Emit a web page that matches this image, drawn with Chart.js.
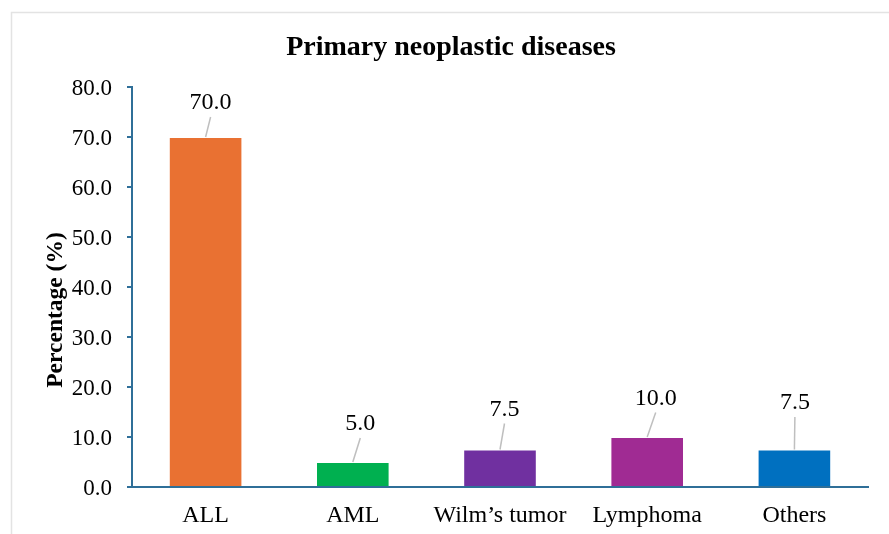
<!DOCTYPE html>
<html>
<head>
<meta charset="utf-8">
<title>Primary neoplastic diseases</title>
<script src="https://cdn.jsdelivr.net/npm/chart.js@4.4.1/dist/chart.umd.min.js"></script>
<style>
  html, body { margin: 0; padding: 0; background: #fff; }
  #wrap { width: 889px; height: 534px; }
</style>
</head>
<body>
<div id="wrap"><canvas id="chart" width="889" height="534"></canvas></div>
<script>
// data
const categories = ['ALL', 'AML', 'Wilm\u2019s tumor', 'Lymphoma', 'Others'];
const percentages = [70.0, 5.0, 7.5, 10.0, 7.5];
const barColors = ['#E97132', '#00B050', '#7030A0', '#A02B93', '#0070C0'];
const yTicks = [0, 10, 20, 30, 40, 50, 60, 70, 80];

// label nudges (px) relative to top centre of each bar
const labelNudges = [[5, -36], [7.5, -40], [4.5, -42], [8.5, -40.5], [0.5, -48.5]];

const FONT = "'Liberation Serif', 'Times New Roman', serif";
const AXIS = '#2F6F98';

// white background + the light frame on top/left
const framePlugin = {
    id: 'frame',
    beforeDraw(chart) {
        const ctx = chart.ctx;
        ctx.save();
        ctx.fillStyle = '#fff';
        ctx.fillRect(0, 0, chart.width, chart.height);
        ctx.strokeStyle = '#E3E3E3';
        ctx.lineWidth = 1.5;
        ctx.beginPath();
        ctx.moveTo(11.5, chart.height);
        ctx.lineTo(11.5, 12.5);
        ctx.lineTo(chart.width, 12.5);
        ctx.stroke();
        ctx.restore();
    }
};

// title and rotated y-axis title
const textPlugin = {
    id: 'texts',
    afterDraw(chart) {
        const ctx = chart.ctx;
        ctx.save();
        ctx.fillStyle = '#000';
        ctx.textAlign = 'center';
        ctx.textBaseline = 'alphabetic';
        ctx.font = 'bold 28px ' + FONT;
        ctx.fillText('Primary neoplastic diseases', 451, 55);

        ctx.font = 'bold 23.5px ' + FONT;
        ctx.translate(62, 310);
        ctx.rotate(-Math.PI / 2);
        ctx.fillText('Percentage (%)', 0, 0);
        ctx.restore();
    }
};

// value labels with leader lines
const labelPlugin = {
    id: 'valueLabels',
    afterDatasetsDraw(chart) {
        const ctx = chart.ctx;
        const meta = chart.getDatasetMeta(0);
        ctx.save();
        meta.data.forEach((bar, i) => {
            const lx = bar.x + labelNudges[i][0];
            const ly = bar.y + labelNudges[i][1];
            ctx.strokeStyle = '#BFBFBF';
            ctx.lineWidth = 1.5;
            ctx.beginPath();
            ctx.moveTo(lx, ly + 16);
            ctx.lineTo(bar.x, bar.y);
            ctx.stroke();

            ctx.fillStyle = '#000';
            ctx.font = '24px ' + FONT;
            ctx.textAlign = 'center';
            ctx.textBaseline = 'middle';
            ctx.fillText(percentages[i].toFixed(1), lx, ly + 2);
        });
        ctx.restore();
    }
};

new Chart(document.getElementById('chart'), {
    type: 'bar',
    data: {
        labels: categories,
        datasets: [{
            data: percentages,
            backgroundColor: barColors,
            borderColor: 'rgba(255,255,255,0.7)',
            borderWidth: 1,
            categoryPercentage: 1.0,
            barPercentage: 0.5
        }]
    },
    options: {
        responsive: false,
        animation: false,
        layout: { padding: { left: 0, right: 21, top: 87, bottom: 0 } },
        plugins: {
            legend: { display: false },
            tooltip: { enabled: false },
            title: { display: false }
        },
        scales: {
            x: {
                grid: { display: false, drawTicks: false },
                border: { display: true, color: AXIS, width: 2 },
                ticks: { color: '#000', font: { family: FONT, size: 24 }, padding: 14, maxRotation: 0 },
                afterFit: (s) => { s.height = 47; }
            },
            y: {
                min: yTicks[0],
                max: yTicks[yTicks.length - 1],
                afterBuildTicks: (s) => { s.ticks = yTicks.map(v => ({ value: v })); },
                grid: { display: true, drawOnChartArea: false, drawTicks: true, tickLength: 5, color: AXIS, lineWidth: 2 },
                border: { display: true, color: AXIS, width: 2 },
                ticks: {
                    color: '#000',
                    font: { family: FONT, size: 23 },
                    padding: 15,
                    labelOffset: 2,
                    callback: (v) => Number(v).toFixed(1)
                },
                afterFit: (s) => { s.width = 132; }
            }
        }
    },
    plugins: [framePlugin, textPlugin, labelPlugin]
});
</script>
</body>
</html>
